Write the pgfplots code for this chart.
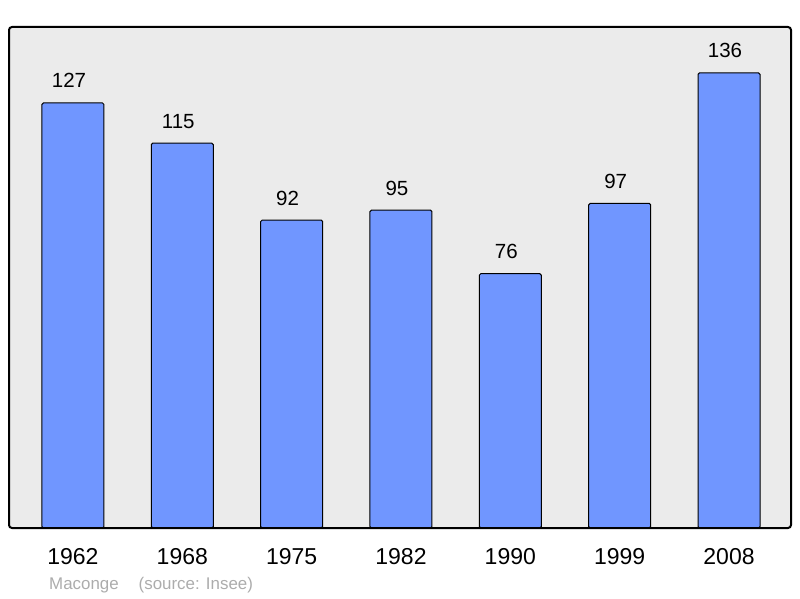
\documentclass[border=0pt]{standalone}
\usepackage{fontspec}
\setmainfont{Liberation Sans}
\usepackage{pgfplots}
\pgfplotsset{compat=1.18}
\usetikzlibrary{calc}
\definecolor{bgpanel}{HTML}{EBEBEB}
\definecolor{barblue}{HTML}{7096FF}
\definecolor{capgray}{HTML}{ACACAC}

\begin{document}
\begin{tikzpicture}
\begin{axis}[
    name=ax,
    scale only axis,
    width=782pt,
    height=501pt,
    xmin=-0.585, xmax=6.567,
    ymin=0, ymax=149.7,
    axis line style={draw=none},
    axis background/.style={fill=bgpanel},
    xtick=data,
    xticklabels={1962,1968,1975,1982,1990,1999,2008},
    xtick style={draw=none},
    ytick=\empty,
    xticklabel style={font=\fontsize{23}{27}\selectfont, anchor=base, yshift=-32pt},
    /pgf/number format/assume math mode=true,
    ybar,
    bar width=62pt,
    nodes near coords,
    nodes near coords style={font=\fontsize{20.5}{24}\selectfont, anchor=base, inner sep=0pt, yshift=15pt, xshift=-4pt, text=black},
    clip=false,
]
\addplot[fill=barblue, draw=black, line width=1pt, rounded corners=1.5pt] coordinates {
    (0,127) (1,115) (2,92) (3,95) (4,76) (5,97) (6,136)
};
\draw[black, line width=2pt, rounded corners=3pt] (rel axis cs:0,0) rectangle (rel axis cs:1,1);
\end{axis}
\node[anchor=base west, inner sep=0pt, text=capgray, font=\fontsize{16.9}{20}\selectfont]
    at ($(ax.south west)+(40pt,-61.5pt)$) {Maconge\hspace{20pt}(source: Insee)};
\pgfresetboundingbox
\path ($(ax.south west)+(-9pt,-70pt)$) rectangle ($(ax.north east)+(9pt,27pt)$);
\end{tikzpicture}
\end{document}
